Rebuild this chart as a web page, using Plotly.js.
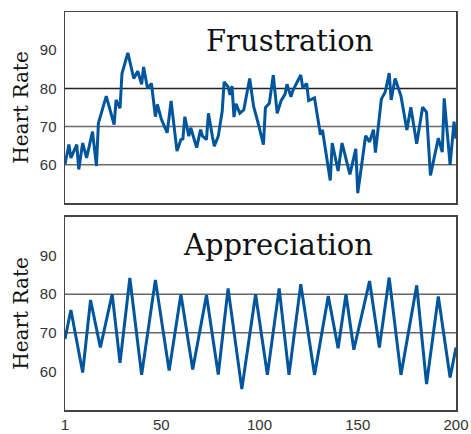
<!DOCTYPE html>
<html>
<head>
<meta charset="utf-8">
<script src="https://cdn.plot.ly/plotly-3.0.1.min.js"></script>
<style>html,body{margin:0;padding:0;background:#fff;}#chart{width:471px;height:434px;}</style>
</head>
<body>
<div id="chart"></div>
<script>
// Frustration series (sample index, heart rate)
const frustrationX = [1,3,4,7,8,10,12,15,17,18,22,26,27,29,30,33,36,38,40,41,43,45,47,48,50,53,55,58,60,61,62,64,65,67,68,70,71,73,74,76,77,79,81,82,84,85,86,87,88,90,92,95,97,99,102,103,105,107,109,111,113,114,116,117,121,122,124,125,128,131,132,136,137,140,142,146,149,150,154,156,158,159,162,164,166,167,169,172,175,177,180,183,185,187,191,193,194,197,199,200];
const frustrationY = [60.1,65.3,61.8,65.3,58.8,65.7,61.8,68.7,59.7,70.9,78,70.5,77,74.8,83.9,89.3,82.6,84.5,81.1,85.6,80,81.3,72.6,75.8,72,68.4,76.7,63.6,66.6,66.8,72.6,67.5,69.7,66.6,64.5,69.2,67.5,66.6,73.5,67.5,64.9,67.5,74,81.7,80.4,78.3,80.6,72.5,76,73.5,74.4,82.6,75.3,71.5,65.3,75,76.1,83.5,73.5,76.8,78.5,81.1,77.8,79.5,83.5,80.2,81.3,76.8,77.5,67.9,69.2,55.9,65.7,58.4,65.7,57.5,64.2,52.6,67.6,66,69.2,63.2,77.2,79.1,84,77,82.6,78,69.1,75.1,65.5,75.1,73.8,57.2,67,63.3,77.4,60,71.3,66.8];

// Appreciation series
const appreciationX = [1,4,10,14,19,25,29,34,40,47,54,60,66,73,79,84,91,98,104,110,115,121,128,135,140,144,148,156,161,166,172,180,185,191,197,200];
const appreciationY = [68.4,75.9,59.7,78.5,66.2,80,62.2,84.2,59.1,83.7,60.2,80,60.5,79.7,59.2,81.5,55.4,80,59.1,81.5,59.1,82.6,59.1,79.5,66,80,65.6,83.4,66.2,84.3,59.1,82.3,56.7,79.4,58.4,66.2];

const panelTitles = ["Frustration", "Appreciation"];
const yTickVals = [60, 70, 80, 90];
const xTickVals = [1, 50, 100, 150, 200];
const gridTop = [60, 70, 80];
const gridBottom = [70, 80];
const yTitle = "Heart Rate";

const lineColor = "#00559c";
const serif = "DejaVu Serif, serif";
const sans = "Liberation Sans, Arial, sans-serif";

const traces = [
  {x: frustrationX, y: frustrationY, xaxis: "x", yaxis: "y", mode: "lines",
   line: {color: lineColor, width: 3}, hoverinfo: "skip"},
  {x: appreciationX, y: appreciationY, xaxis: "x2", yaxis: "y2", mode: "lines",
   line: {color: lineColor, width: 3}, hoverinfo: "skip"}
];

const shapes = [];
gridTop.forEach(v => shapes.push({type: "line", xref: "x domain", yref: "y", x0: 0, x1: 1, y0: v, y1: v,
  line: {color: v === 80 ? "#222" : "#6a6a6a", width: 1.5}, layer: "below"}));
gridBottom.forEach(v => shapes.push({type: "line", xref: "x2 domain", yref: "y2", x0: 0, x1: 1, y0: v, y1: v,
  line: {color: "#666", width: 1.5}, layer: "below"}));

const axisCommon = {
  showline: true, mirror: true, linecolor: "#444", linewidth: 1.5,
  showgrid: false, zeroline: false, ticks: "",
  tickfont: {family: sans, size: 15, color: "#333"}
};

const layout = {
  width: 471, height: 434,
  margin: {l: 65, r: 15, t: 12, b: 24},
  paper_bgcolor: "#fff", plot_bgcolor: "#fff",
  showlegend: false,
  xaxis: Object.assign({}, axisCommon, {domain: [0, 1], range: [1, 200], anchor: "y", showticklabels: false}),
  yaxis: Object.assign({}, axisCommon, {domain: [0.52, 1], range: [50, 100], anchor: "x",
    tickvals: yTickVals, ticklabelstandoff: 4,
    title: {text: yTitle, font: {family: serif, size: 20, color: "#111"}, standoff: 6}}),
  xaxis2: Object.assign({}, axisCommon, {domain: [0, 1], range: [1, 200], anchor: "y2",
    tickvals: xTickVals}),
  yaxis2: Object.assign({}, axisCommon, {domain: [0, 0.485], range: [50, 100], anchor: "x2",
    tickvals: yTickVals, ticklabelstandoff: 4,
    title: {text: yTitle, font: {family: serif, size: 20, color: "#111"}, standoff: 6}}),
  shapes: shapes,
  annotations: [
    {text: panelTitles[0], xref: "x", yref: "y", x: 159, y: 92.5, xanchor: "right", yanchor: "middle",
     showarrow: false, font: {family: serif, size: 29, color: "#111"}},
    {text: panelTitles[1], xref: "x2", yref: "y2", x: 159, y: 92.8, xanchor: "right", yanchor: "middle",
     showarrow: false, font: {family: serif, size: 29, color: "#111"}}
  ]
};

Plotly.newPlot("chart", traces, layout, {staticPlot: true, displayModeBar: false});
</script>
</body>
</html>
